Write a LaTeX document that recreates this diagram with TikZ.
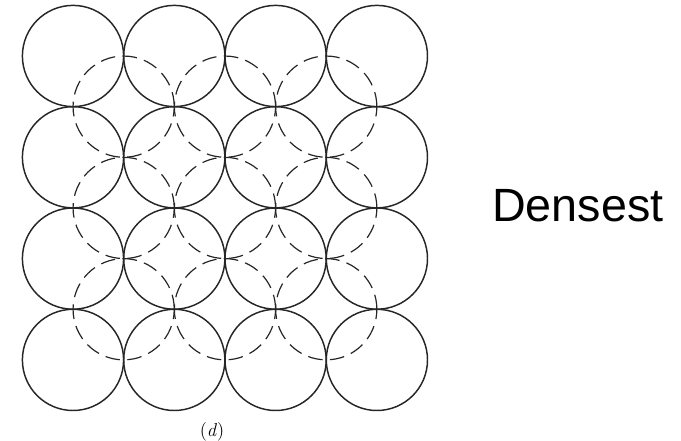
\documentclass[tikz,border=0pt]{standalone}
\usepackage{fontspec}
\setmainfont{Latin Modern Roman}
\newfontfamily\labelfont{Liberation Sans}

\begin{document}
\begin{tikzpicture}[
        x=0.75pt, y=-0.75pt,
        lower/.style={circle, draw=black!85, line width=1.1pt, minimum size=75.9pt, inner sep=0pt},
        upper/.style={circle, draw=black!85, line width=0.9pt, dash pattern=on 11pt off 5.5pt, minimum size=75.9pt, inner sep=0pt},
    ]
        \useasboundingbox (0,0) rectangle (681,441);

        % Second layer (dashed) sitting in the hollows
        \foreach \i in {0,1,2} {
            \foreach \j in {0,1,2} {
                \node[upper] (hollow-\i-\j) at ({123.65+101.3*\i}, {106.65+101.3*\j}) {};
            }
        }

        % First layer (solid), square array
        \foreach \i in {0,1,2,3} {
            \foreach \j in {0,1,2,3} {
                \node[lower] (atom-\i-\j) at ({73+101.3*\i}, {56+101.3*\j}) {};
            }
        }

        % Labels
        \node[anchor=base, inner sep=0pt, font=\fontsize{14}{17}\selectfont] (caption) at (212,436) {(\textit{d})};
        \node[anchor=base west, inner sep=0pt, font=\labelfont\fontsize{35}{42}\selectfont] (densest) at (492,222) {Densest};

    \end{tikzpicture}
\end{document}
